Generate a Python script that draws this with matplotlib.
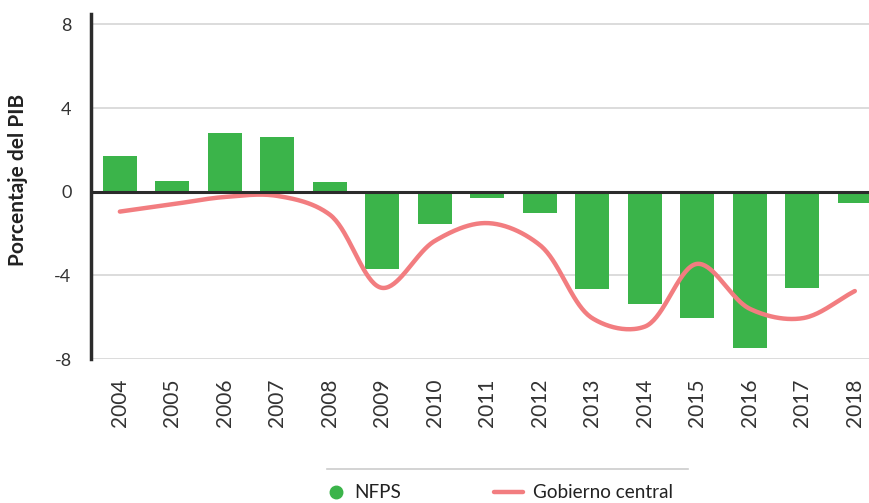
import numpy as np
import matplotlib
matplotlib.use("Agg")
import matplotlib.pyplot as plt
from matplotlib.lines import Line2D

years = ["2004", "2005", "2006", "2007", "2008", "2009", "2010", "2011",
         "2012", "2013", "2014", "2015", "2016", "2017", "2018"]
nfps = [1.7, 0.5, 2.8, 2.6, 0.45, -3.7, -1.55, -0.3, -1.0, -4.65, -5.35, -6.05, -7.45, -4.6, -0.55]
gobierno = [-0.95, -0.6, -0.25, -0.2, -1.1, -4.6, -2.35, -1.5, -2.55, -6.05, -6.45, -3.45, -5.6, -6.05, -4.75]
yticks = [-8, -4, 0, 4, 8]

GREEN = "#3BB44A"
PINK = "#F27D80"
DARK = "#2b2b2b"
FONT = "Lato"


def centripetal_cr(x, y, sx=52.5, sy=20.9, n=40, alpha=0.5):
    """Centripetal Catmull-Rom smoothing (rendering only)."""
    P = np.column_stack([np.asarray(x, float) * sx, np.asarray(y, float) * sy])
    P = np.vstack([2 * P[0] - P[1], P, 2 * P[-1] - P[-2]])
    out = []
    for i in range(1, len(P) - 2):
        P0, P1, P2, P3 = P[i - 1], P[i], P[i + 1], P[i + 2]
        t0 = 0.0
        t1 = t0 + np.linalg.norm(P1 - P0) ** alpha
        t2 = t1 + np.linalg.norm(P2 - P1) ** alpha
        t3 = t2 + np.linalg.norm(P3 - P2) ** alpha
        t = np.linspace(t1, t2, n)[:, None]
        A1 = (t1 - t) / (t1 - t0) * P0 + (t - t0) / (t1 - t0) * P1
        A2 = (t2 - t) / (t2 - t1) * P1 + (t - t1) / (t2 - t1) * P2
        A3 = (t3 - t) / (t3 - t2) * P2 + (t - t2) / (t3 - t2) * P3
        B1 = (t2 - t) / (t2 - t0) * A1 + (t - t0) / (t2 - t0) * A2
        B2 = (t3 - t) / (t3 - t1) * A2 + (t - t1) / (t3 - t1) * A3
        C = (t2 - t) / (t2 - t1) * B1 + (t - t1) / (t2 - t1) * B2
        out.append(C if i == 1 else C[1:])
    C = np.vstack(out)
    return C[:, 0] / sx, C[:, 1] / sy


fig = plt.figure(figsize=(8.69, 5.03), dpi=100)
ax = fig.add_axes([91 / 869, 1 - 359 / 503, 1 - 91 / 869, (359 - 14) / 503])

xpos = np.arange(len(years))
ax.bar(xpos, nfps, width=0.65, color=GREEN, zorder=2)

sx_, sy_ = centripetal_cr(xpos, gobierno)
ax.plot(sx_, sy_, color=PINK, lw=3.2, solid_capstyle="round", zorder=3)

ax.set_xlim(-0.55, 14.27)
ax.set_ylim(-8, 8.5)

ax.set_yticks(yticks)
ax.set_yticklabels([str(v) for v in yticks], fontsize=13, color="#333333", family=FONT)
ax.set_xticks(xpos)
ax.set_xticklabels(years, rotation=90, fontsize=15, color="#333333", family=FONT)
ax.tick_params(axis="both", length=0)
ax.tick_params(axis="y", pad=14)
ax.tick_params(axis="x", pad=14)

for v in yticks:
    if v != 0:
        ax.axhline(v, color="#d6d6d6", lw=1.2, zorder=0)
ax.axhline(0, color=DARK, lw=2.2, zorder=4)

for s in ["top", "right", "bottom"]:
    ax.spines[s].set_visible(False)
ax.spines["left"].set_color(DARK)
ax.spines["left"].set_linewidth(2.5)
ax.spines["left"].set_zorder(5)

ax.set_ylabel("Porcentaje del PIB", fontsize=15, fontweight="bold", color="#222222", family=FONT)
ax.yaxis.set_label_coords(-0.081, 0.52)

# legend separator line
fig.add_artist(Line2D([327 / 869, 688 / 869], [1 - 469 / 503, 1 - 469 / 503],
                      color="#cccccc", lw=1.2, transform=fig.transFigure))

leg_y = 1 - 493 / 503
h1 = Line2D([], [], marker="o", linestyle="none", color=GREEN, markersize=9)
h2 = Line2D([], [], color=PINK, lw=3.2, solid_capstyle="round")
leg1 = fig.legend([h1], ["NFPS"], loc="center left",
                  bbox_to_anchor=(327 / 869, leg_y), frameon=False,
                  prop={"family": FONT, "size": 13.6}, handlelength=1.0,
                  handletextpad=0.45, borderpad=0, borderaxespad=0)
leg2 = fig.legend([h2], ["Gobierno central"], loc="center left",
                  bbox_to_anchor=(494 / 869, leg_y), frameon=False,
                  prop={"family": FONT, "size": 13.6}, handlelength=1.55,
                  handletextpad=0.5, borderpad=0, borderaxespad=0)
for leg in (leg1, leg2):
    for t in leg.get_texts():
        t.set_color("#222222")

fig.savefig("out.png", dpi=100)
